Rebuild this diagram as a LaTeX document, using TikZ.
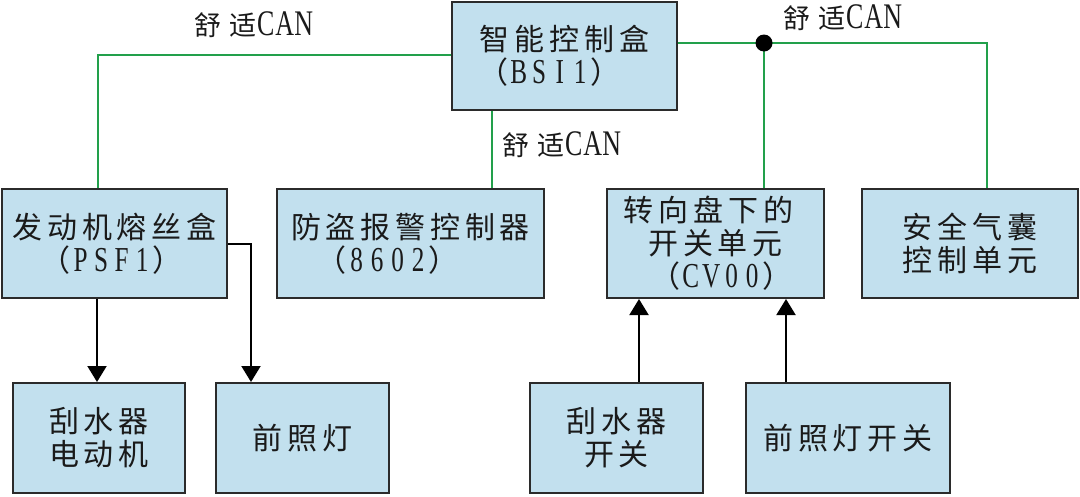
\documentclass[tikz,border=0pt]{standalone}
\usepackage{fontspec}
\usetikzlibrary{arrows.meta}
\newfontfamily\zh[LetterSpace=16]{Noto Sans CJK SC}
\newfontfamily\zhl[LetterSpace=28]{Noto Sans CJK SC}
\newfontfamily\la[FakeStretch=0.72]{Liberation Serif}
\newlength\monow
\def\monoloop#1{\ifx#1\relax\else\makebox[\monow][c]{#1}\expandafter\monoloop\fi}
\newcommand\mn[1]{{\la\fontsize{35}{33}\selectfont\setlength\monow{20.5pt}\monoloop#1\relax}}
\newcommand\mnl[1]{{\la\fontsize{36}{33}\selectfont\setlength\monow{19pt}\monoloop#1\relax}}
\definecolor{boxfill}{HTML}{C2E0EE}
\definecolor{boxline}{HTML}{2B2B2B}
\definecolor{cangreen}{HTML}{22A04B}
\definecolor{txt}{HTML}{1A1A1A}
\tikzset{
  box/.style={draw=boxline, fill=boxfill, line width=2pt, inner sep=0pt,
    align=center, text=txt, font=\zh\fontsize{30}{33}\selectfont},
  lab/.style={inner sep=0pt, text=txt, font=\zhl\fontsize{27}{30}\selectfont},
  can/.style={draw=cangreen, line width=2pt},
  arr/.style={draw=black, line width=2pt, -{Triangle[width=19pt,length=16pt]}}
}
\begin{document}
\begin{tikzpicture}[x=1pt,y=-1pt]
\fill[white] (0,0) rectangle (1080,496);
\useasboundingbox (0,0) rectangle (1080,496);
% boxes
\node[box, minimum width=225pt, minimum height=108pt] (bsi) at (564.5,56) {智能控制盒\\（\mn{BSI1}）\hspace*{30pt}};
\node[box, minimum width=225pt, minimum height=109pt] (psf) at (114.5,243.5) {发动机熔丝盒\\（\mn{PSF1}）\hspace*{6pt}};
\node[box, minimum width=267pt, minimum height=109pt] (ats) at (410.5,243.5) {防盗报警控制器\\（\mn{8602}）\hspace*{46pt}};
\node[box, minimum width=217pt, minimum height=109pt] (cv) at (715.5,243.5) {转向盘下的\hspace*{14pt}\\开关单元\hspace*{14pt}\\\hspace*{12pt}（\mn{CV00}）};
\node[box, minimum width=216pt, minimum height=109pt] (abg) at (970,243.5) {安全气囊\\控制单元};
\node[box, minimum width=172pt, minimum height=110pt] (wm) at (99,438) {刮水器\\电动机};
\node[box, minimum width=173pt, minimum height=110pt] (hl) at (302.5,438) {前照灯};
\node[box, minimum width=173pt, minimum height=110pt] (ws) at (616.5,438) {刮水器\\开关};
\node[box, minimum width=204pt, minimum height=110pt] (hs) at (848,438) {前照灯开关};
% labels
\node[lab] (l1) at (254,25) {舒适\mnl{CAN}};
\node[lab] (l2) at (562,145) {舒适\mnl{CAN}};
\node[lab] (l3) at (843,18) {舒适\mnl{CAN}};
% CAN bus lines
\coordinate (pst) at ([xshift=-16.5pt]psf.north);
\draw[can] ([yshift=1pt]bsi.west) -| (pst);
\coordinate (bss) at ([xshift=-72.5pt]bsi.south);
\draw[can] (bss) -- (bss |- ats.north);
\coordinate (be) at ([yshift=13pt]bsi.east);
\coordinate (abt) at ([xshift=17pt]abg.north);
\draw[can] (be) -| (abt);
\coordinate (cvt) at ([xshift=48.5pt]cv.north);
\coordinate (j) at (be -| cvt);
\draw[can] (j) -- (cvt);
\fill[black] (j) circle[radius=8.5pt];
% signal arrows
\coordinate (p1) at ([xshift=-17.5pt]psf.south);
\draw[arr] (p1) -- (p1 |- wm.north);
\coordinate (h1) at ([xshift=-51.5pt]hl.north);
\draw[arr] (psf.east) -| (h1);
\coordinate (w1) at ([xshift=22.5pt]ws.north);
\draw[arr] (w1) -- (w1 |- cv.south);
\coordinate (s1) at ([xshift=-62pt]hs.north);
\draw[arr] (s1) -- (s1 |- cv.south);
\end{tikzpicture}
\end{document}
